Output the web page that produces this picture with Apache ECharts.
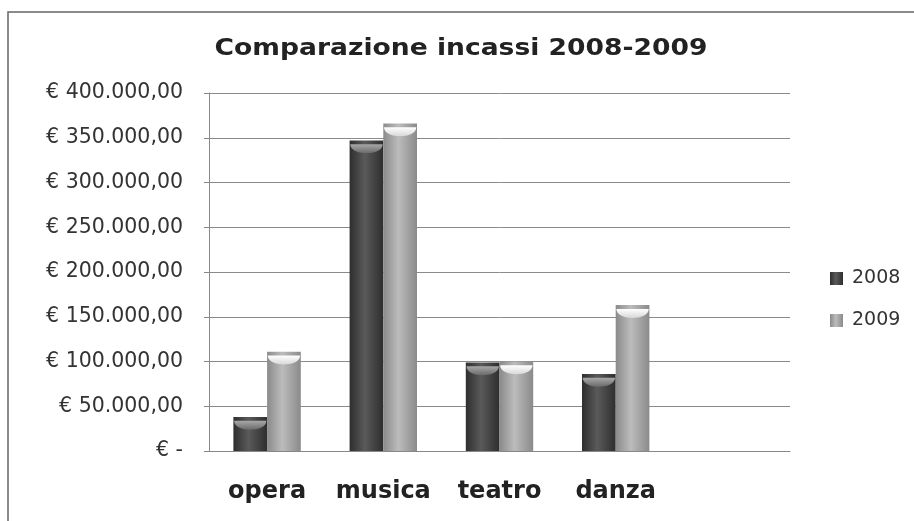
<!DOCTYPE html>
<html>
<head>
<meta charset="utf-8">
<script src="https://cdn.jsdelivr.net/npm/echarts@6/dist/echarts.min.js"></script>
<style>
  html, body { margin: 0; padding: 0; background: #fff; }
  #chart { width: 914px; height: 521px; }
</style>
</head>
<body>
<div id="chart"></div>
<script>
// Box-office takings per genre, 2008 vs 2009 (euro)
const categories = ['opera', 'musica', 'teatro', 'danza', ''];
const incassi2008 = [38000, 347000, 99000, 86000, null];
const incassi2009 = [111000, 366000, 100000, 163000, null];
const seriesNames = ['2008', '2009'];
const yTickLabels = ['€ -', '€ 50.000,00', '€ 100.000,00', '€ 150.000,00', '€ 200.000,00',
  '€ 250.000,00', '€ 300.000,00', '€ 350.000,00', '€ 400.000,00'];
const chartTitle = 'Comparazione incassi 2008-2009';

const chart = echarts.init(document.getElementById('chart'), null, { renderer: 'canvas' });

// horizontal shading that gives the bars a cylindrical look
function cylinder(edge, mid) {
  return new echarts.graphic.LinearGradient(0, 0, 1, 0, [
    { offset: 0, color: edge },
    { offset: 0.45, color: mid },
    { offset: 1, color: edge }
  ]);
}
// light rim at the top of each cylinder
function rim(top, bottom) {
  return new echarts.graphic.LinearGradient(0, 0, 0, 1, [
    { offset: 0, color: top },
    { offset: 1, color: bottom }
  ]);
}

const barCommon = {
  type: 'bar',
  barGap: '0%',
  barCategoryGap: '42%'
};
const capCommon = {
  type: 'pictorialBar',
  symbol: 'path://M0,0 H100 C100,28 0,28 0,0 Z',
  symbolPosition: 'end',
  symbolSize: ['96%', 9],
  symbolOffset: [0, '42%'],
  barGap: '0%',
  barCategoryGap: '42%',
  z: 3,
  silent: true,
  legendHoverLink: false
};

chart.setOption({
  animation: false,
  backgroundColor: '#ffffff',
  graphic: [
    {
      type: 'rect',
      shape: { x: 8, y: 12, width: 940, height: 540 },
      style: { fill: 'none', stroke: '#666', lineWidth: 1.5 },
      silent: true
    },
    {
      type: 'text',
      x: 461,
      y: 49,
      scaleX: 1.13,
      style: {
        text: chartTitle,
        align: 'center',
        verticalAlign: 'middle',
        fontFamily: 'DejaVu Sans',
        fontWeight: 'bold',
        fontSize: 23.5,
        fill: '#222'
      },
      silent: true
    }
  ],
  legend: {
    data: seriesNames,
    orient: 'vertical',
    left: 825,
    top: 264,
    itemGap: 23,
    itemWidth: 13,
    itemHeight: 13,
    icon: 'rect',
    textStyle: { fontFamily: 'DejaVu Sans', fontSize: 19, color: '#333', padding: [0, 0, 0, 4] }
  },
  grid: { left: 209, right: 124, top: 93, bottom: 70, containLabel: false },
  xAxis: {
    type: 'category',
    data: categories,
    axisLine: { lineStyle: { color: '#888', width: 1 } },
    axisTick: { show: false },
    axisLabel: {
      interval: 0,
      hideOverlap: false,
      margin: 29,
      fontFamily: 'DejaVu Sans',
      fontWeight: 'bold',
      fontSize: 24,
      color: '#222'
    }
  },
  yAxis: {
    type: 'value',
    min: 0,
    max: 400000,
    interval: 50000,
    axisLine: { show: true, lineStyle: { color: '#888', width: 1 } },
    axisTick: { show: true, length: 5, lineStyle: { color: '#888' } },
    splitLine: { lineStyle: { color: '#8a8a8a', width: 1 } },
    axisLabel: {
      margin: 26,
      fontFamily: 'DejaVu Sans',
      fontSize: 20.5,
      color: '#333',
      formatter: (v) => yTickLabels[Math.round(v / 50000)]
    }
  },
  series: [
    Object.assign({}, barCommon, {
      name: seriesNames[0],
      data: incassi2008,
      itemStyle: { color: cylinder('#2e2e2e', '#5a5a5a') }
    }),
    Object.assign({}, barCommon, {
      name: seriesNames[1],
      data: incassi2009,
      itemStyle: { color: cylinder('#8a8a8a', '#bcbcbc') }
    }),
    Object.assign({}, capCommon, {
      name: seriesNames[0],
      data: incassi2008,
      itemStyle: { color: rim('#a8a8a8', '#6a6a6a') }
    }),
    Object.assign({}, capCommon, {
      name: seriesNames[1],
      data: incassi2009,
      itemStyle: { color: rim('#ffffff', '#d8d8d8') }
    })
  ]
});
</script>
</body>
</html>
